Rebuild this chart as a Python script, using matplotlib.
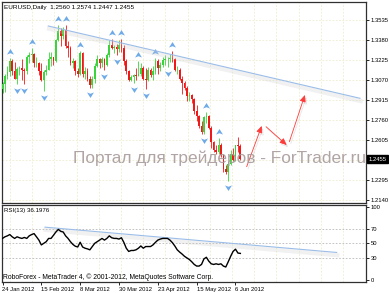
import matplotlib
matplotlib.use("Agg")
import matplotlib.pyplot as plt
import matplotlib.patheffects as pe
import matplotlib.transforms as mtransforms
from matplotlib.path import Path
import numpy as np

# ---------------- data (EURUSD Daily) ----------------
opens = [1.3000, 1.3036, 1.3100, 1.3130, 1.3215, 1.3140, 1.3080, 1.3158, 1.3165, 1.3150,
         1.3140, 1.3250, 1.3265, 1.3270, 1.3198, 1.3205, 1.3140, 1.3070, 1.3130, 1.3150,
         1.3230, 1.3245, 1.3220, 1.3380, 1.3450, 1.3410, 1.3460, 1.3335, 1.3320, 1.3200,
         1.3220, 1.3140, 1.3120, 1.3280, 1.3120, 1.3140, 1.3080, 1.3030, 1.3080, 1.3180,
         1.3230, 1.3200, 1.3230, 1.3190, 1.3260, 1.3340, 1.3315, 1.3325, 1.3310, 1.3340,
         1.3320, 1.3220, 1.3140, 1.3070, 1.3090, 1.3110, 1.3100, 1.3120, 1.3160, 1.3080,
         1.3070, 1.3150, 1.3110, 1.3140, 1.3220, 1.3160, 1.3190, 1.3225, 1.3230, 1.3236,
         1.3240, 1.3230, 1.3145, 1.3150, 1.3080, 1.3050, 1.3010, 1.2945, 1.2950, 1.2920,
         1.2830, 1.2790, 1.2710, 1.2670, 1.2780, 1.2790, 1.2700, 1.2590, 1.2530, 1.2510,
         1.2570, 1.2490, 1.2380, 1.2360, 1.2420, 1.2500, 1.2450, 1.2565, 1.2560]
highs = [1.3055, 1.3120, 1.3180, 1.3241, 1.3230, 1.3210, 1.3170, 1.3180, 1.3230, 1.3165,
         1.3260, 1.3290, 1.3320, 1.3280, 1.3250, 1.3210, 1.3200, 1.3150, 1.3190, 1.3290,
         1.3290, 1.3250, 1.3390, 1.3494, 1.3470, 1.3480, 1.3494, 1.3370, 1.3330, 1.3240,
         1.3225, 1.3160, 1.3295, 1.3290, 1.3170, 1.3160, 1.3100, 1.3100, 1.3200, 1.3260,
         1.3240, 1.3250, 1.3240, 1.3280, 1.3380, 1.3390, 1.3340, 1.3350, 1.3380, 1.3390,
         1.3340, 1.3230, 1.3150, 1.3110, 1.3120, 1.3160, 1.3217, 1.3200, 1.3180, 1.3160,
         1.3170, 1.3160, 1.3180, 1.3237, 1.3230, 1.3210, 1.3250, 1.3260, 1.3250, 1.3270,
         1.3291, 1.3240, 1.3180, 1.3160, 1.3100, 1.3060, 1.3020, 1.2980, 1.2960, 1.2930,
         1.2880, 1.2800, 1.2750, 1.2790, 1.2822, 1.2800, 1.2710, 1.2600, 1.2570, 1.2620,
         1.2580, 1.2500, 1.2410, 1.2440, 1.2530, 1.2540, 1.2570, 1.2625, 1.2574]
lows = [1.2972, 1.2980, 1.3080, 1.3100, 1.3110, 1.3075, 1.3039, 1.3110, 1.3070, 1.3039,
        1.3120, 1.3200, 1.3210, 1.3170, 1.3170, 1.3110, 1.3060, 1.2982, 1.3110, 1.3150,
        1.3180, 1.3190, 1.3210, 1.3370, 1.3330, 1.3390, 1.3320, 1.3250, 1.3190, 1.3160,
        1.3110, 1.3090, 1.3110, 1.3090, 1.3080, 1.3060, 1.3008, 1.3010, 1.3050, 1.3170,
        1.3160, 1.3170, 1.3144, 1.3180, 1.3250, 1.3310, 1.3280, 1.3264, 1.3290, 1.3290,
        1.3190, 1.3120, 1.3060, 1.3060, 1.3044, 1.3070, 1.3100, 1.3100, 1.3070, 1.3004,
        1.3060, 1.3090, 1.3070, 1.3120, 1.3120, 1.3140, 1.3170, 1.3190, 1.3171, 1.3210,
        1.3210, 1.3140, 1.3120, 1.3070, 1.2960, 1.2990, 1.2910, 1.2910, 1.2890, 1.2810,
        1.2750, 1.2700, 1.2650, 1.2648, 1.2740, 1.2690, 1.2540, 1.2510, 1.2500, 1.2500,
        1.2470, 1.2360, 1.2340, 1.2287, 1.2410, 1.2440, 1.2440, 1.2510, 1.2447]
closes = [1.3036, 1.3100, 1.3130, 1.3215, 1.3140, 1.3080, 1.3158, 1.3165, 1.3150, 1.3140,
          1.3250, 1.3265, 1.3270, 1.3198, 1.3205, 1.3140, 1.3070, 1.3130, 1.3150, 1.3230,
          1.3245, 1.3220, 1.3380, 1.3450, 1.3410, 1.3460, 1.3335, 1.3320, 1.3200, 1.3220,
          1.3140, 1.3120, 1.3280, 1.3120, 1.3140, 1.3080, 1.3030, 1.3080, 1.3180, 1.3230,
          1.3200, 1.3230, 1.3190, 1.3260, 1.3340, 1.3315, 1.3325, 1.3310, 1.3340, 1.3320,
          1.3220, 1.3140, 1.3070, 1.3090, 1.3110, 1.3100, 1.3120, 1.3160, 1.3080, 1.3070,
          1.3150, 1.3110, 1.3140, 1.3220, 1.3160, 1.3190, 1.3225, 1.3230, 1.3236, 1.3240,
          1.3230, 1.3145, 1.3150, 1.3080, 1.3050, 1.3010, 1.2945, 1.2950, 1.2920, 1.2830,
          1.2790, 1.2710, 1.2670, 1.2780, 1.2790, 1.2700, 1.2590, 1.2530, 1.2510, 1.2570,
          1.2490, 1.2380, 1.2360, 1.2420, 1.2500, 1.2450, 1.2565, 1.2560, 1.2455]

rsi_values = [56.7, 58.9, 60.2, 62.0, 58.9, 56.7, 58.9, 57.6, 56.7, 58.0,
              56.7, 60.2, 62.0, 63.3, 58.9, 54.4, 47.8, 50.0, 52.2, 56.7,
              56.7, 61.0, 65.5, 69.0, 66.4, 65.5, 60.2, 56.7, 52.2, 48.5,
              46.0, 45.0, 51.5, 45.0, 43.3, 42.4, 41.1, 45.6, 50.0, 52.2,
              54.4, 56.7, 54.4, 56.7, 60.2, 57.6, 56.7, 56.7, 55.8, 57.6,
              51.3, 43.3, 38.9, 40.2, 40.2, 41.1, 43.3, 46.4, 43.3, 45.6,
              45.6, 45.6, 47.8, 51.3, 54.4, 55.8, 56.7, 56.7, 56.7, 54.4,
              50.9, 46.4, 41.1, 38.0, 35.3, 32.2, 30.0, 27.8, 24.7, 21.1,
              18.9, 18.9, 21.1, 28.7, 30.9, 25.6, 22.0, 21.1, 22.0, 21.1,
              22.0, 18.9, 17.6, 24.7, 32.2, 38.9, 42.0, 36.7, 36.2]

up_fractal_bars = [3, 12, 23, 26, 32, 45, 49, 56, 63, 70, 84, 89]
down_fractal_bars = [6, 9, 17, 36, 42, 47, 54, 59, 68, 83, 93]

trend_x = [18.87, 147.3]
trend_price = [1.34885, 1.29282]
rsi_trend_x = [17.5, 137.7]
rsi_trend_val = [72.1, 37.5]

forecast_start_x = [100.6, 108.6, 118.2]
forecast_start_p = [1.2398, 1.2708, 1.2592]
forecast_end_x = [106.8, 117.1, 124.6]
forecast_end_p = [1.2714, 1.2566, 1.2954]

price_ticks = [1.2140, 1.2295, 1.2605, 1.2760, 1.2915, 1.3070, 1.3225, 1.3380, 1.3535]
grid_prices = [1.2140, 1.2295, 1.2450, 1.2605, 1.2760, 1.2915, 1.3070, 1.3225, 1.3380, 1.3535]
rsi_ticks = [0, 30, 50, 70, 100]
rsi_levels = [30, 50, 70]
date_tick_bars = [0, 16, 32, 48, 64, 80, 96]
date_labels = ["24 Jan 2012", "15 Feb 2012", "8 Mar 2012", "30 Mar 2012",
               "23 Apr 2012", "15 May 2012", "6 Jun 2012"]
last_price = 1.2455
header = "EURUSD,Daily  1.2560 1.2574 1.2447 1.2455"
rsi_label = "RSI(13) 36.1976"
copyright_text = "RoboForex - MetaTrader 4, \u00a9 2001-2012, MetaQuotes Software Corp."
watermark = "Портал для трейдеров - ForTrader.ru"

# ---------------- layout ----------------
W, H = 389, 293
plt.rcParams['font.family'] = ['Liberation Sans', 'DejaVu Sans']
fig = plt.figure(figsize=(W / 100, H / 100), dpi=100)
fig.patch.set_facecolor('white')

def rect(x0, y0, x1, y1):
    return [x0 / W, 1 - y1 / H, (x1 - x0) / W, (y1 - y0) / H]

PX0, PXB = 2.5, 2.427  # pixel of bar 0, pixels per bar
AX_L, AX_R = 2, 366
xlim = ((AX_L - PX0) / PXB, (AX_R - PX0) / PXB)

ax = fig.add_axes(rect(AX_L, 2, AX_R, 203))
axr = fig.add_axes(rect(AX_L, 205, AX_R, 282))

for a in (ax, axr):
    a.set_xlim(*xlim)
    for s in a.spines.values():
        s.set_color('#303030')
        s.set_linewidth(0.9)

ax.set_ylim(1.21168, 1.36745)
axr.set_ylim(-2.9, 102.4)

grid_col = '#eeeccc'
vgrid_px = [10 + 22.2 * k for k in range(16)]
for p in vgrid_px:
    for a in (ax, axr):
        a.axvline((p - PX0) / PXB, color=grid_col, lw=0.6, ls=(0, (2, 2)), zorder=0)
for gp in grid_prices:
    ax.axhline(gp, color=grid_col, lw=0.6, ls=(0, (2, 2)), zorder=0)
for lv in rsi_levels:
    axr.axhline(lv, color='#b8b8b8', lw=0.6, ls=(0, (2, 2)), zorder=0)

# ---------------- candles ----------------
x = np.arange(len(closes))
o = np.array(opens); h = np.array(highs); l = np.array(lows); c = np.array(closes)
bull = c >= o
col = np.where(bull, '#3cd43c', '#f01818')
ax.vlines(x, l, h, colors=col, lw=0.6, zorder=2)
ax.bar(x, np.where(np.abs(c - o) < 0.0003, 0.0003, c - o), bottom=o, width=0.7,
       color=col, linewidth=0, zorder=3)

# fractal arrows
up_marker = Path([(0, 1), (1, -0.6), (0, -0.2), (-1, -0.6), (0, 1)],
                 [Path.MOVETO, Path.LINETO, Path.LINETO, Path.LINETO, Path.CLOSEPOLY])
down_marker = Path([(0, -1), (1, 0.6), (0, 0.2), (-1, 0.6), (0, -1)],
                   [Path.MOVETO, Path.LINETO, Path.LINETO, Path.LINETO, Path.CLOSEPOLY])
tr_up = mtransforms.offset_copy(ax.transData, fig=fig, x=0, y=6, units='dots')
tr_dn = mtransforms.offset_copy(ax.transData, fig=fig, x=0, y=-6, units='dots')
arrow_col = '#6eaae8'
ax.plot(up_fractal_bars, [highs[i] for i in up_fractal_bars], ls='none',
        marker=up_marker, ms=5, color=arrow_col, mew=0, transform=tr_up, zorder=4, clip_on=False)
ax.plot(down_fractal_bars, [lows[i] for i in down_fractal_bars], ls='none',
        marker=down_marker, ms=5, color=arrow_col, mew=0, transform=tr_dn, zorder=4, clip_on=False)

shadow = [pe.SimpleLineShadow(offset=(0.5, -2), shadow_color='#c8c8c8', alpha=0.25, linewidth=3), pe.Normal()]
ax.plot(trend_x, trend_price, color='#9bbde8', lw=0.8, zorder=4, path_effects=shadow)
axr.plot(rsi_trend_x, rsi_trend_val, color='#9bbde8', lw=0.8, zorder=2, path_effects=shadow)

# forecast arrows
for sx, sp, ex, ep in zip(forecast_start_x, forecast_start_p, forecast_end_x, forecast_end_p):
    ax.annotate('', xy=(ex, ep), xytext=(sx, sp),
                arrowprops=dict(arrowstyle='-|>,head_length=0.45,head_width=0.2', color='#ff3a3a',
                                lw=0.6, shrinkA=0, shrinkB=0, mutation_scale=9,
                                path_effects=[pe.SimpleLineShadow(offset=(1, -1.5), shadow_color='#b0b0b0', alpha=0.3), pe.Normal()]),
                zorder=5)

# RSI line
axr.plot(x, rsi_values, color='black', lw=1.0, zorder=3)

# ---------------- axes ticks ----------------
ax.yaxis.tick_right()
ax.set_yticks(price_ticks)
ax.set_yticklabels([f"{p:.4f}" for p in price_ticks])
ax.tick_params(axis='y', labelsize=4.2, length=2, width=0.6, pad=1.2, colors='black')
ax.set_xticks([])

axr.yaxis.tick_right()
axr.set_yticks(rsi_ticks)
axr.set_yticklabels([str(t) for t in rsi_ticks])
axr.tick_params(axis='y', labelsize=4.2, length=2, width=0.6, pad=1.2)
axr.set_xticks(date_tick_bars)
axr.set_xticklabels(date_labels, ha='left')
axr.tick_params(axis='x', labelsize=4.2, length=2, width=0.6, pad=1.5)

# current price box
ax.annotate(f"{last_price:.4f}", xy=(1.0, last_price), xycoords=('axes fraction', 'data'),
            xytext=(1.6, 0), textcoords='offset points', fontsize=4.2, color='white',
            ha='left', va='center', annotation_clip=False,
            bbox=dict(boxstyle='square,pad=0.25', fc='black', ec='black'), zorder=10)

# ---------------- texts ----------------
fig.text(4 / W, 1 - 7 / H, header, fontsize=4.6, va='center', ha='left')
fig.text(4 / W, 1 - 210.5 / H, rsi_label, fontsize=4.4, va='center', ha='left')
fig.text(3 / W, 1 - 277 / H, copyright_text, fontsize=4.85, va='center', ha='left')
fig.text(73 / W, 1 - 163 / H, watermark, fontsize=12.4, va='baseline', ha='left',
         color='#a89a9a', alpha=0.9, zorder=6)

fig.savefig('out.png', dpi=100)
